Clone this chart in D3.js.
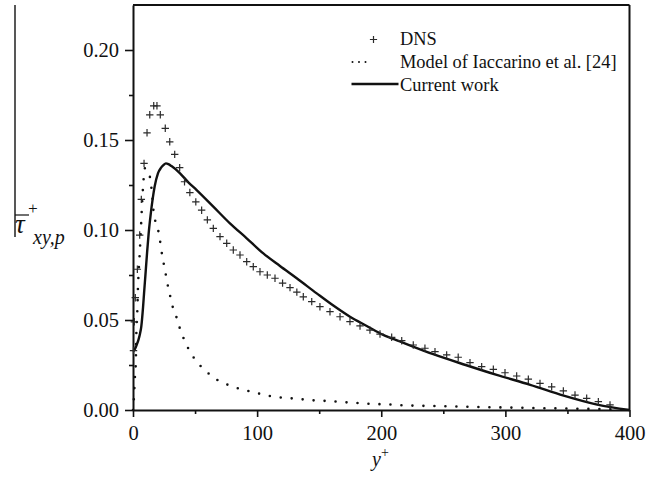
<!DOCTYPE html>
<html>
<head>
<meta charset="utf-8">
<script src="https://cdn.jsdelivr.net/npm/d3@7"></script>
<style>
  html, body { margin: 0; padding: 0; background: #fff; }
  svg, svg text { font-family: "Liberation Serif", "Times New Roman", Times, serif; }
</style>
</head>
<body>
<svg id="chart" width="662" height="477"></svg>
<script>
// DNS profile of the pressure contribution to the shear stress
const dnsY = [0.4, 1.1, 1.85, 3.5, 5.4, 6.7, 8.9, 11.3, 13.5, 16.7, 19.3, 22, 26, 29.6, 33.6, 37.6, 41.5, 45.8, 50.6, 55.3, 59.9, 64.7, 70.1, 75.5, 80.8, 86.2, 91.6, 96.9, 102.3, 108.2, 114.4, 120.5, 126.5, 132, 137.2, 144, 150.6, 158.7, 166.8, 174.8, 182.9, 190.9, 199, 208.4, 216.5, 225.8, 235.2, 243.3, 252.7, 262, 271.5, 280.9, 290.3, 299.7, 309.1, 318.5, 327.9, 337.3, 346.7, 356.1, 365.5, 374.9, 384.3];
const dnsTau = [0.033, 0.049, 0.0624, 0.0782, 0.0972, 0.117, 0.137, 0.154, 0.164, 0.169, 0.169, 0.164, 0.1565, 0.149, 0.142, 0.1346, 0.1268, 0.1208, 0.1156, 0.111, 0.1056, 0.1009, 0.0963, 0.0926, 0.0889, 0.0861, 0.0824, 0.0796, 0.0768, 0.075, 0.0732, 0.0705, 0.068, 0.0655, 0.0629, 0.0602, 0.0574, 0.0546, 0.0518, 0.0491, 0.0467, 0.0444, 0.0422, 0.0404, 0.0385, 0.0361, 0.0343, 0.0324, 0.0306, 0.0293, 0.0263, 0.0241, 0.0226, 0.0207, 0.0189, 0.0171, 0.0148, 0.0129, 0.0106, 0.0083, 0.0065, 0.0046, 0.0028];

// Model of Iaccarino et al.
const modelY = [0, 0.8, 1.6, 2.2, 2.7, 3.5, 4, 4.8, 5.4, 6.2, 6.7, 8.1, 9.7, 12, 14, 15.2, 16.9, 19.6, 21.5, 22.8, 24.2, 26, 27.6, 29.6, 31.7, 34.9, 37.5, 40.8, 45.2, 51, 59.2, 67.9, 76.8, 86.2, 95.1, 104.2, 113, 121.9, 131.1, 139.9, 149.3, 158.1, 167.6, 177, 185.5, 194.4, 203.8, 212.4, 250, 300, 350, 400];
const modelTau = [0, 0.0074, 0.019, 0.025, 0.0426, 0.0556, 0.068, 0.0796, 0.087, 0.098, 0.1056, 0.124, 0.1344, 0.133, 0.128, 0.121, 0.1083, 0.1019, 0.0954, 0.0889, 0.0833, 0.0769, 0.0707, 0.0644, 0.058, 0.0518, 0.0459, 0.0398, 0.0333, 0.0272, 0.0213, 0.0167, 0.0139, 0.0117, 0.0102, 0.0087, 0.0074, 0.0068, 0.0063, 0.0057, 0.0052, 0.005, 0.0044, 0.0041, 0.0037, 0.0033, 0.0032, 0.0028, 0.0021, 0.0014, 0.0008, 0.0003];

// Current work
const workY = [0, 1.5, 3, 4.5, 5.6, 6.7, 8.1, 8.9, 9.9, 11.3, 12.6, 14.3, 15.8, 17.4, 20.1, 22.5, 24.5, 26.5, 28.5, 31, 37.9, 44.6, 51.3, 64.7, 78.1, 91.6, 105, 118.4, 131.9, 148, 161.4, 174.8, 188.3, 201.6, 215, 241.9, 268, 293, 320, 347, 374, 400];
const workTau = [0.0325, 0.0338, 0.0362, 0.0392, 0.0422, 0.0465, 0.0572, 0.0648, 0.074, 0.087, 0.098, 0.109, 0.117, 0.124, 0.1315, 0.1345, 0.136, 0.137, 0.1366, 0.1355, 0.1315, 0.1265, 0.1222, 0.113, 0.1037, 0.0954, 0.087, 0.08, 0.0732, 0.0648, 0.058, 0.0518, 0.0467, 0.0417, 0.0381, 0.031, 0.025, 0.0195, 0.014, 0.008, 0.003, 0.0];

const xTicks = [0, 100, 200, 300, 400];
const xMinor = [50, 150, 250, 350];
const yTicks = [0.00, 0.05, 0.10, 0.15, 0.20];
const yMinor = [0.025, 0.075, 0.125, 0.175];
const legendLabels = ["DNS", "Model of Iaccarino et al. [24]", "Current work"];

const serif = "'Liberation Serif', 'Times New Roman', Times, serif";
const svg = d3.select("#chart").attr("font-family", serif);
const plotLeft = 133, plotRight = 629.5, plotTop = 5, plotBottom = 410;

const x = d3.scaleLinear().domain([0, 400]).range([plotLeft, plotRight]);
const y = d3.scaleLinear().domain([0, 0.225]).range([plotBottom, plotTop]);

const ink = "#111";

// frame: top and right edges
svg.append("line").attr("x1", plotLeft).attr("x2", plotRight).attr("y1", plotTop).attr("y2", plotTop)
  .attr("stroke", ink).attr("stroke-width", 2);
svg.append("line").attr("x1", plotRight).attr("x2", plotRight).attr("y1", plotTop).attr("y2", plotBottom)
  .attr("stroke", ink).attr("stroke-width", 2);

// axes
const yAxis = svg.append("g").attr("transform", `translate(${plotLeft},0)`)
  .call(d3.axisLeft(y).tickValues(yTicks).tickFormat(d3.format(".2f")).tickSize(8).tickSizeOuter(0).tickPadding(6));
svg.append("g").attr("transform", `translate(${plotLeft},0)`)
  .call(d3.axisLeft(y).tickValues(yMinor).tickFormat("").tickSize(4).tickSizeOuter(0))
  .select(".domain").remove();

const xAxis = svg.append("g").attr("transform", `translate(0,${plotBottom})`)
  .call(d3.axisBottom(x).tickValues(xTicks).tickFormat(d3.format("d")).tickSize(7).tickSizeOuter(0).tickPadding(8));
svg.append("g").attr("transform", `translate(0,${plotBottom})`)
  .call(d3.axisBottom(x).tickValues(xMinor).tickFormat("").tickSize(4).tickSizeOuter(0))
  .select(".domain").remove();

svg.selectAll("g").attr("font-family", serif);
svg.selectAll(".domain").attr("stroke", ink).attr("stroke-width", 2);
svg.selectAll(".tick line").attr("stroke", ink).attr("stroke-width", 1.6);
svg.selectAll(".tick text").attr("fill", ink).attr("font-size", 20.5).attr("font-family", serif);
yAxis.selectAll(".tick text").attr("dy", "0.34em");

// model curve (dotted)
const model = modelY.map((v, i) => [v, modelTau[i]]);
svg.append("path").datum(model)
  .attr("fill", "none").attr("stroke", ink).attr("stroke-width", 2.6)
  .attr("stroke-linecap", "round").attr("stroke-dasharray", "0 11")
  .attr("d", d3.line().x(d => x(d[0])).y(d => y(d[1])).curve(d3.curveMonotoneX));

// current work (solid)
const work = workY.map((v, i) => [v, workTau[i]]);
svg.append("path").datum(work)
  .attr("fill", "none").attr("stroke", ink).attr("stroke-width", 2.4)
  .attr("d", d3.line().x(d => x(d[0])).y(d => y(d[1])).curve(d3.curveMonotoneX));

// DNS markers
const dns = dnsY.map((v, i) => [v, dnsTau[i]]);
const cross = (g, cx, cy, s) => {
  g.append("path")
    .attr("d", `M${cx - s},${cy}H${cx + s}M${cx},${cy - s}V${cy + s}`)
    .attr("stroke", "#2a2a2a").attr("stroke-width", 1.2).attr("fill", "none");
};
const dnsG = svg.append("g");
dns.forEach(d => cross(dnsG, x(d[0]), y(d[1]), 3.7));

// legend
const lg = svg.append("g").attr("font-size", 18.4).attr("fill", ink).attr("font-family", serif);
cross(lg, 373.5, 39.5, 3.6);
lg.append("line").attr("x1", 352.5).attr("x2", 372).attr("y1", 62).attr("y2", 62)
  .attr("stroke", ink).attr("stroke-width", 2).attr("stroke-linecap", "round").attr("stroke-dasharray", "0 6.5");
lg.append("line").attr("x1", 351.5).attr("x2", 398.5).attr("y1", 84).attr("y2", 84)
  .attr("stroke", ink).attr("stroke-width", 2.4);
legendLabels.forEach((t, i) => {
  lg.append("text").attr("x", 400).attr("y", 45 + i * 23).attr("font-family", serif).text(t);
});

// y-axis title: overlined tau with superscript + and subscript xy,p
const yt = svg.append("g").attr("fill", ink).attr("font-family", serif).attr("font-style", "italic");
yt.append("line").attr("x1", 15).attr("x2", 15).attr("y1", 5).attr("y2", 237)
  .attr("stroke", ink).attr("stroke-width", 1.4);
yt.append("line").attr("x1", 15).attr("x2", 29).attr("y1", 215).attr("y2", 215)
  .attr("stroke", ink).attr("stroke-width", 1.2);
yt.append("text").attr("x", 15).attr("y", 233).attr("font-size", 27).text("τ");
yt.append("text").attr("x", 27).attr("y", 214).attr("font-size", 17).text("+");
yt.append("text").attr("x", 33).attr("y", 244).attr("font-size", 20).text("xy,p");

// x-axis title
const xt = svg.append("text").attr("x", 372).attr("y", 466).attr("fill", ink)
  .attr("font-size", 20).attr("font-family", serif);
xt.append("tspan").attr("font-style", "italic").text("y");
xt.append("tspan").attr("dy", -9).attr("font-size", 14).text("+");
</script>
</body>
</html>
